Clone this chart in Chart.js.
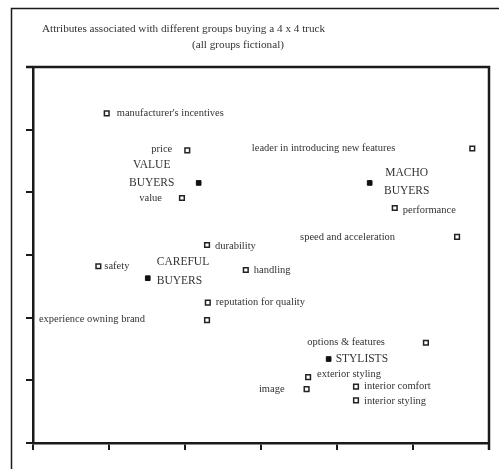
<!DOCTYPE html>
<html>
<head>
<meta charset="utf-8">
<script src="https://cdn.jsdelivr.net/npm/chart.js@4/dist/chart.umd.min.js"></script>
<style>
  body { margin: 0; background: #fff; }
  #wrap { width: 499px; height: 469px; }
</style>
</head>
<body>
<div id="wrap"><canvas id="perceptualMap" width="499" height="469"></canvas></div>
<script>
// attributes (open squares)
const attributes = [
    "manufacturer's incentives", 'price', 'value', 'durability', 'safety', 'handling',
    'reputation for quality', 'experience owning brand', 'leader in introducing new features',
    'performance', 'speed and acceleration', 'options & features', 'exterior styling',
    'image', 'interior comfort', 'interior styling'
];
const attrX = [0.97, 2.03, 1.96, 2.29, 0.86, 2.80, 2.30, 2.29, 5.78, 4.76, 5.58, 5.17, 3.62, 3.60, 4.25, 4.25];
const attrY = [5.26, 4.67, 3.91, 3.16, 2.82, 2.76, 2.24, 1.96, 4.70, 3.75, 3.29, 1.60, 1.05, 0.86, 0.90, 0.68];

// buyer groups (filled squares)
const groups = [['VALUE', 'BUYERS'], ['CAREFUL', 'BUYERS'], ['MACHO', 'BUYERS'], ['STYLISTS']];
const groupX = [2.18, 1.51, 4.43, 3.89];
const groupY = [4.15, 2.63, 4.15, 1.34];

const axisTicks = [0, 1, 2, 3, 4, 5, 6];

// where each label sits relative to its marker (pixels)
const attrLabelPlace = [
    ['left', 10, 0], ['right', -15, -1], ['right', -20, 0], ['left', 8, 1], ['left', 6, 0],
    ['left', 8, 0], ['left', 8, 0], ['right', -62, -1], ['right', -77, 0], ['left', 8, 2],
    ['right', -62, 0], ['right', -41, 0], ['left', 9, -3], ['right', -22, 0], ['left', 8, 0],
    ['left', 8, 1]
];
const groupLabelPlace = [
    ['center', -47, [-18, 0]], ['left', 9, [-16, 3]], ['center', 37, [-10, 8]], ['left', 7, [0]]
];

const serif = '"Liberation Serif", "DejaVu Serif", serif';
const ink = '#1a1a1a';

const labelPlugin = {
    id: 'labels',
    beforeDraw(chart) {
        const ctx = chart.ctx;
        ctx.save();
        ctx.fillStyle = '#fff';
        ctx.fillRect(0, 0, chart.width, chart.height);
        // outer frame
        ctx.strokeStyle = ink;
        ctx.lineWidth = 1.5;
        ctx.strokeRect(11.5, 8.5, 700, 700);
        // title lines
        ctx.fillStyle = '#333';
        ctx.font = '11.2px ' + serif;
        ctx.textBaseline = 'middle';
        ctx.textAlign = 'left';
        ctx.fillText('Attributes associated with different groups buying a 4 x 4 truck', 42, 29);
        ctx.textAlign = 'center';
        ctx.fillText('(all groups fictional)', 238, 45);
        ctx.restore();
    },
    afterDatasetsDraw(chart) {
        const ctx = chart.ctx;
        const a = chart.chartArea;
        ctx.save();
        // top and right edges of the plot box
        ctx.strokeStyle = ink;
        ctx.lineWidth = 2.5;
        ctx.beginPath();
        ctx.moveTo(a.left - 7, a.top);
        ctx.lineTo(a.right, a.top);
        ctx.lineTo(a.right, a.bottom + 7);
        ctx.stroke();

        ctx.fillStyle = '#333';
        ctx.textBaseline = 'middle';
        ctx.font = '10.5px ' + serif;
        chart.getDatasetMeta(0).data.forEach((pt, i) => {
            const [align, dx, dy] = attrLabelPlace[i];
            ctx.textAlign = align;
            ctx.fillText(attributes[i], pt.x + dx, pt.y + dy);
        });
        ctx.font = '11.5px ' + serif;
        chart.getDatasetMeta(1).data.forEach((pt, i) => {
            const [align, dx, dys] = groupLabelPlace[i];
            ctx.textAlign = align;
            groups[i].forEach((line, j) => ctx.fillText(line, pt.x + dx, pt.y + dys[j]));
        });
        ctx.restore();
    }
};

const axisOpts = {
    type: 'linear',
    min: axisTicks[0],
    max: axisTicks[axisTicks.length - 1],
    afterBuildTicks: scale => { scale.ticks = axisTicks.map(v => ({ value: v })); },
    ticks: { display: false },
    grid: { drawOnChartArea: false, drawTicks: true, tickLength: 7, lineWidth: 2, color: ink },
    border: { display: true, width: 2.5, color: ink }
};

new Chart(document.getElementById('perceptualMap').getContext('2d'), {
    type: 'scatter',
    data: {
        datasets: [{
            label: 'attributes',
            data: attrX.map((x, i) => ({ x: x, y: attrY[i] })),
            pointStyle: 'rect',
            pointRadius: 3.3,
            backgroundColor: '#fff',
            borderColor: '#222',
            borderWidth: 1.5
        }, {
            label: 'groups',
            data: groupX.map((x, i) => ({ x: x, y: groupY[i] })),
            pointStyle: 'rect',
            pointRadius: 3.3,
            backgroundColor: '#111',
            borderColor: '#111',
            borderWidth: 1
        }]
    },
    options: {
        responsive: false,
        animation: false,
        layout: { padding: { left: 26, top: 67, right: 10, bottom: 19 } },
        plugins: {
            legend: { display: false },
            tooltip: { enabled: false }
        },
        scales: { x: axisOpts, y: axisOpts }
    },
    plugins: [labelPlugin]
});
</script>
</body>
</html>
